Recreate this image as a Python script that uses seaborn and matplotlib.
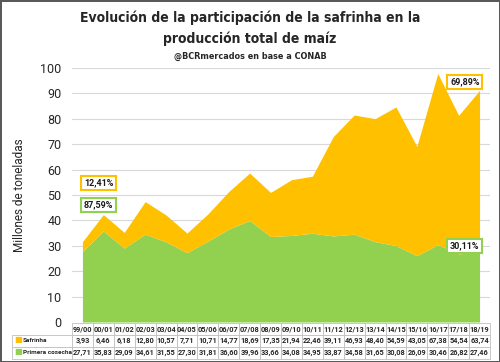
import numpy as np
import matplotlib
matplotlib.use("Agg")
import matplotlib.pyplot as plt
import seaborn as sns

# datos (millones de toneladas)
campanias = ["99/00", "00/01", "01/02", "02/03", "03/04", "04/05", "05/06", "06/07", "07/08", "08/09",
             "09/10", "10/11", "11/12", "12/13", "13/14", "14/15", "15/16", "16/17", "17/18", "18/19"]
safrinha = [3.93, 6.46, 6.18, 12.80, 10.57, 7.71, 10.71, 14.77, 18.69, 17.35,
            21.94, 22.46, 39.11, 46.93, 48.40, 54.59, 43.05, 67.38, 54.54, 63.74]
primera = [27.71, 35.83, 29.09, 34.61, 31.55, 27.30, 31.81, 36.60, 39.96, 33.66,
           34.08, 34.95, 33.87, 34.58, 31.65, 30.08, 26.09, 30.46, 26.82, 27.46]
series = ["Safrinha", "Primera cosecha"]
# participación en la primera y última campaña
part_inicio = ["12,41%", "87,59%"]
part_fin = ["69,89%", "30,11%"]
yticks = list(range(0, 101, 10))

c_saf = "#FFC000"
c_pri = "#92D050"

sns.set_theme(style="whitegrid")
plt.rcParams["font.family"] = ["Roboto", "DejaVu Sans"]

fig = plt.figure(figsize=(5, 3.62), dpi=100)
fig.patch.set_edgecolor("#595959")
fig.patch.set_linewidth(2)
ax = fig.add_axes([72 / 500, 40 / 362, 418 / 500, 254 / 362])

x = np.arange(len(campanias))
ax.stackplot(x, primera, safrinha, colors=[c_pri, c_saf], linewidth=0)
ax.set_xlim(-0.5, len(campanias) - 0.5)
ax.set_ylim(0, 100)
ax.set_yticks(yticks)
ax.set_xticks([])
ax.grid(axis="y", color="#D9D9D9", linewidth=0.8)
ax.grid(axis="x", visible=False)
for s in ax.spines.values():
    s.set_visible(False)
ax.tick_params(axis="y", labelsize=9, colors="#262626", pad=7.5, length=0)
ax.set_axisbelow(True)
ax.set_ylabel("Millones de toneladas", fontsize=8.5, color="#262626", labelpad=10)

box = dict(boxstyle="square,pad=0.3", fc="white", lw=1.5)
lab = dict(textcoords="offset points", va="center", fontsize=6.5, fontweight="bold", color="#1a1a1a")
ax.annotate(part_inicio[0], (0, 54.7), xytext=(1, 0), ha="left", bbox={**box, "ec": c_saf}, **lab)
ax.annotate(part_inicio[1], (0, 46), xytext=(1, 0), ha="left", bbox={**box, "ec": c_pri}, **lab)
ax.annotate(part_fin[0], (19, 94.5), xytext=(0, 0), ha="right", bbox={**box, "ec": c_saf}, **lab)
ax.annotate(part_fin[1], (19, 30), xytext=(0, 0), ha="right", bbox={**box, "ec": c_pri}, **lab)

# tabla de datos
fmt = lambda v: f"{v:.2f}".replace(".", ",")
cell_text = [[series[0]] + [fmt(v) for v in safrinha],
             [series[1]] + [fmt(v) for v in primera]]
tab = ax.table(cellText=cell_text, colLabels=[""] + campanias,
               colWidths=[60] + [20.9] * len(campanias),
               cellLoc="center", colLoc="center",
               bbox=[-60 / 418, -37 / 254, 478 / 418, 36 / 254])
tab.auto_set_font_size(False)
for (r, c), cell in tab.get_celld().items():
    cell.set_edgecolor("#BFBFBF")
    cell.set_linewidth(0.6)
    cell.PAD = 0.03
    t = cell.get_text()
    t.set_fontsize(5.3)
    t.set_fontweight("bold")
    t.set_color("#262626")
    if c == 0:
        cell.PAD = 0.18
        t.set_fontsize(4.6)
        t.set_horizontalalignment("left")
        cell._loc = "left"
        if r == 0:
            cell.visible_edges = ""

fig.text(14 / 500, 1 - 340 / 362, "■", color=c_saf, fontsize=6, va="center")
fig.text(14 / 500, 1 - 352 / 362, "■", color=c_pri, fontsize=6, va="center")

# títulos
tfont = dict(ha="center", va="center", fontweight="bold", family=["DejaVu Sans"], fontstretch="condensed")
fig.text(0.5, 1 - 18 / 362, "Evolución de la participación de la safrinha en la", fontsize=10, **tfont)
fig.text(0.5, 1 - 39 / 362, "producción total de maíz", fontsize=10, **tfont)
fig.text(0.5, 1 - 56 / 362, "@BCRmercados en base a CONAB", fontsize=6.5, **tfont)

fig.savefig("out.png", dpi=100, edgecolor=fig.get_edgecolor())
